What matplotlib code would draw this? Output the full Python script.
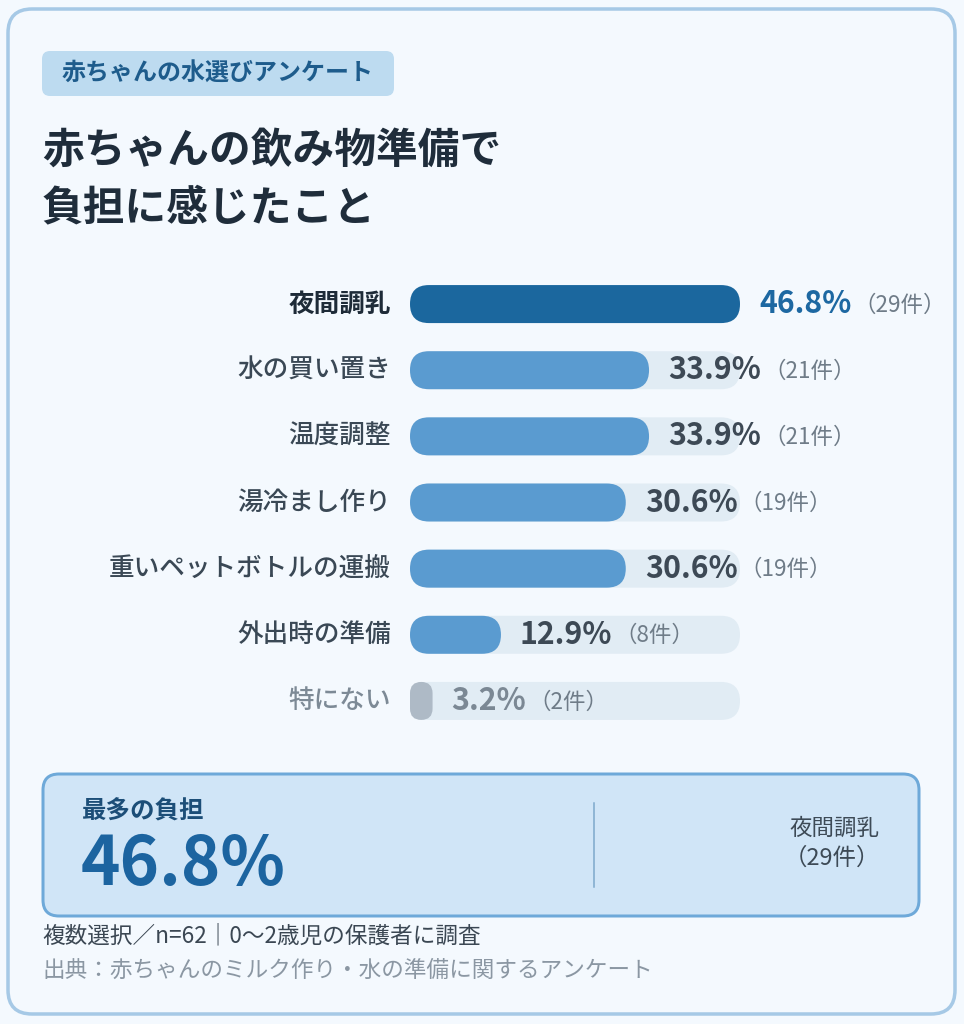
import matplotlib
matplotlib.use("Agg")
import matplotlib.pyplot as plt
from matplotlib.patches import FancyBboxPatch

plt.rcParams['font.family'] = ['Noto Sans CJK JP', 'DejaVu Sans']

# ---------------- data ----------------
categories = ["夜間調乳", "水の買い置き", "温度調整", "湯冷まし作り",
              "重いペットボトルの運搬", "外出時の準備", "特にない"]
percents = [46.8, 33.9, 33.9, 30.6, 30.6, 12.9, 3.2]
counts = [29, 21, 21, 19, 19, 8, 2]
tag_text = "赤ちゃんの水選びアンケート"
title_text = "赤ちゃんの飲み物準備で\n負担に感じたこと"
summary_label = "最多の負担"
note_text = "複数選択／n=62｜0〜2歳児の保護者に調査"
source_text = "出典：赤ちゃんのミルク作り・水の準備に関するアンケート"

W, H = 964, 1024
DPI = 100
PT = 72.0 / DPI  # points per pixel

BG = "#F4F9FE"
fig = plt.figure(figsize=(W / DPI, H / DPI), dpi=DPI, facecolor=BG)

# background / layout axes in pixel coordinates
bg = fig.add_axes([0, 0, 1, 1])
bg.set_xlim(0, W)
bg.set_ylim(H, 0)
bg.axis("off")

# card
bg.add_patch(FancyBboxPatch((8, 9), 947, 1005, boxstyle="round,pad=0,rounding_size=24",
                            fc=BG, ec="#A6C9E6", lw=3.5 * PT))

# tag
bg.add_patch(FancyBboxPatch((42, 51), 352, 45, boxstyle="round,pad=0,rounding_size=8",
                            fc="#BDDBF0", ec="none"))
bg.text(62, 74, tag_text, fontsize=24 * PT, fontweight="bold", color="#1E5C8C",
        ha="left", va="center")

# title
bg.text(42, 130, title_text, fontsize=41.7 * PT, fontweight="bold", color="#1F2D3B",
        ha="left", va="top", linespacing=1.47)

# ---------------- bars ----------------
x0_px, x1_px = 410, 740
top_px, bot_px = 271, 734
n = len(categories)
ax = fig.add_axes([x0_px / W, 1 - bot_px / H, (x1_px - x0_px) / W, (bot_px - top_px) / H])
max_v = max(percents)
ax.set_xlim(0, max_v)
ax.set_ylim(n - 0.5, -0.5)
ax.axis("off")

px_per_x = (x1_px - x0_px) / max_v
px_per_y = (bot_px - top_px) / n
bar_h = 38 / px_per_y
m_aspect = px_per_x / px_per_y


def pill(x, y, w, h, color, z):
    r_px = min(w * px_per_x, h * px_per_y) / 2
    p = FancyBboxPatch((x, y - h / 2), w, h,
                       boxstyle=f"round,pad=0,rounding_size={r_px / px_per_x}",
                       mutation_aspect=m_aspect, fc=color, ec="none", zorder=z)
    ax.add_patch(p)
    return p


top_idx = percents.index(max_v)
for i, (cat, v, c) in enumerate(zip(categories, percents, counts)):
    pill(0, i, max_v, bar_h, "#E1ECF4", 1)
    if i == top_idx:
        bar_c, lab_c, pct_c, lw_ = "#1B679E", "#1E2B38", "#1D68A2", "bold"
    elif cat == "特にない":
        bar_c, lab_c, pct_c, lw_ = "#AEBAC6", "#7D8A96", "#7B8894", "medium"
    else:
        bar_c, lab_c, pct_c, lw_ = "#5A9BD0", "#3A4855", "#3D4955", "medium"
    pill(0, i, v, bar_h, bar_c, 2)
    ax.annotate(cat, xy=(0, i), xytext=(-19 * PT, 0), textcoords="offset points",
                ha="right", va="center", fontsize=25.6 * PT, fontweight=lw_, color=lab_c,
                annotation_clip=False)
    t = ax.annotate(f"{v:.1f}%", xy=(v, i), xytext=(19 * PT, 0), textcoords="offset points",
                    ha="left", va="center", fontsize=30.3 * PT, fontweight="bold", color=pct_c,
                    annotation_clip=False, zorder=3)
    ax.annotate(f"（{c}件）", xy=(1, 0.5), xycoords=t, xytext=(2 * PT, -1 * PT),
                textcoords="offset points", ha="left", va="center",
                fontsize=22.5 * PT, color="#6F7C88", annotation_clip=False, zorder=3)

# ---------------- summary box ----------------
bg.add_patch(FancyBboxPatch((43, 774), 876, 142, boxstyle="round,pad=0,rounding_size=16",
                            fc="#D0E5F7", ec="#6EA9D9", lw=3 * PT))
bg.text(82, 812, summary_label, fontsize=24.5 * PT, fontweight="bold", color="#1C4E78",
        ha="left", va="center")
bg.text(81, 866, f"{max_v:.1f}%", fontsize=67 * PT, fontweight="bold", color="#1C64A0",
        ha="left", va="center")
bg.plot([593.5, 593.5], [803, 887], color="#7BA7CB", lw=1.5 * PT)
bg.text(834, 828, categories[top_idx], fontsize=22.5 * PT, color="#3D4A56",
        ha="center", va="center")
bg.text(832, 858, f"（{counts[top_idx]}件）", fontsize=23.5 * PT, color="#3D4A56",
        ha="center", va="center")

# ---------------- footer ----------------
bg.text(42, 936, note_text, fontsize=22.6 * PT, color="#3B4753", ha="left", va="center")
bg.text(42, 970, source_text, fontsize=22.6 * PT, color="#8B97A3", ha="left", va="center")

fig.savefig("out.png", dpi=DPI, facecolor=BG)
